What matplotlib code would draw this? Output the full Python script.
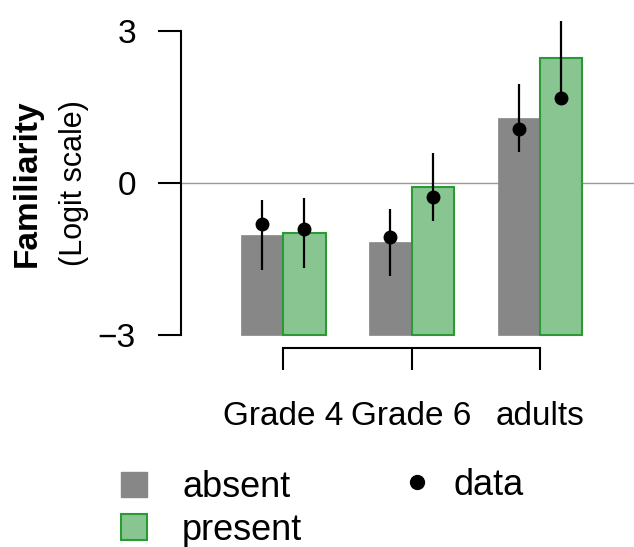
import matplotlib
matplotlib.use('Agg')
import matplotlib.pyplot as plt
from matplotlib.patches import Patch
from matplotlib.lines import Line2D
import numpy as np

plt.rcParams['font.family'] = ['Liberation Sans', 'DejaVu Sans']

# ── Data ───────────────────────────────────────────────────────────────────
groups = ['Grade 4', 'Grade 6', 'adults']
absent_bar = [-1.03, -1.16, 1.29]
present_bar = [-0.98, -0.07, 2.46]
absent_pt = [-0.80, -1.07, 1.06]
absent_lo = [-1.71, -1.84, 0.62]
absent_hi = [-0.33, -0.51, 1.95]
present_pt = [-0.91, -0.27, 1.68]
present_lo = [-1.68, -0.75, 1.62]
present_hi = [-0.29, 0.59, 3.20]

GRAY = '#878787'
GREEN_FILL = '#89C591'
GREEN_EDGE = '#2A9A35'
BASE = -3
W = 0.33

fig = plt.figure(figsize=(6.34, 5.47), dpi=100)
ax = fig.add_axes([181 / 634, 1 - 348.3 / 547, 1 - 181 / 634, (348.3 - 10.7) / 547])

x = np.arange(1, len(groups) + 1)

ax.axhline(0, color='#999999', lw=1.0, zorder=0)

ax.bar(x - W, np.array(absent_bar) - BASE, bottom=BASE, width=W, align='edge',
       color=GRAY, edgecolor=GRAY, lw=0.5, zorder=1)
ax.bar(x, np.array(present_bar) - BASE, bottom=BASE, width=W, align='edge',
       color=GREEN_FILL, edgecolor=GREEN_EDGE, lw=1.5, zorder=1)

# data points with intervals
for xs, pt, lo, hi in [(x - W / 2, absent_pt, absent_lo, absent_hi),
                       (x + W / 2, present_pt, present_lo, present_hi)]:
    ax.vlines(xs, lo, hi, color='black', lw=1.6, zorder=3)
    ax.plot(xs, pt, 'o', color='black', ms=9, zorder=4)

ax.set_xlim(0.203, 3.732)
ax.set_ylim(-3.26, 3.4)

for s in ['top', 'right']:
    ax.spines[s].set_visible(False)
ax.spines['left'].set_bounds(-3, 3)
ax.spines['bottom'].set_bounds(1, 3)
ax.spines['left'].set_linewidth(1.5)
ax.spines['bottom'].set_linewidth(1.5)

ax.set_yticks([-3, 0, 3])
ax.set_yticklabels(['\u22123', '0', '3'])
ax.set_xticks(x)
ax.set_xticklabels(groups)
ax.tick_params(axis='y', length=16.5, width=1.5, pad=16, labelsize=24)
ax.tick_params(axis='x', length=15.8, width=1.5, pad=22, labelsize=24)

fig.text(27.5 / 634, 1 - 183 / 547, 'Familiarity', rotation=90, fontsize=24,
         fontweight='bold', ha='center', va='center')
fig.text(74 / 634, 1 - 183 / 547, '(Logit scale)', rotation=90, fontsize=22,
         ha='center', va='center')

# ── Legend ─────────────────────────────────────────────────────────────────
bar_handles = [Patch(facecolor=GRAY, edgecolor=GRAY, label='absent'),
               Patch(facecolor=GREEN_FILL, edgecolor=GREEN_EDGE, lw=1.5, label='present')]
fig.legend(handles=bar_handles, loc='upper left', frameon=False,
           bbox_to_anchor=(121 / 634, 1 - 470 / 547), fontsize=26,
           handlelength=0.72, handleheight=0.72, handletextpad=0.97,
           labelspacing=0.22, borderaxespad=0, borderpad=0)
dot_handle = [Line2D([], [], marker='o', color='black', ls='none', ms=10, label='data')]
fig.legend(handles=dot_handle, loc='upper left', frameon=False,
           bbox_to_anchor=(404 / 634, 1 - 468 / 547), fontsize=26,
           handlelength=0.72, handleheight=0.72, handletextpad=0.64,
           borderaxespad=0, borderpad=0)

fig.savefig('out.png', dpi=100)
